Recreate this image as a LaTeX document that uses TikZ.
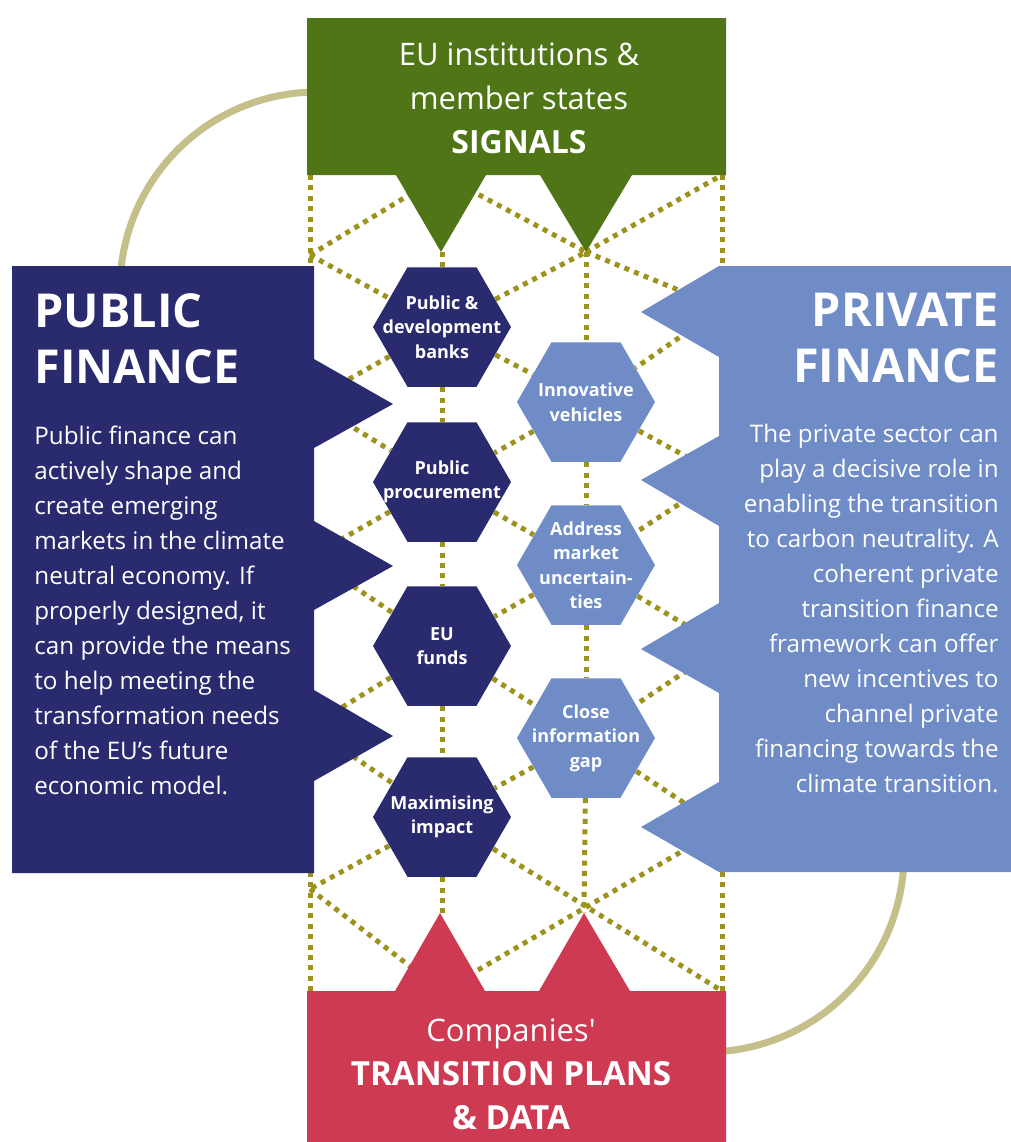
\documentclass[tikz,border=0pt]{standalone}
\usepackage{fontspec}
\setmainfont{Open Sans}
\usetikzlibrary{shapes.geometric}
\definecolor{signalgreen}{RGB}{79,117,23}
\definecolor{publicblue}{RGB}{42,42,110}
\definecolor{privateblue}{RGB}{111,140,198}
\definecolor{planred}{RGB}{206,58,82}
\definecolor{latticeolive}{RGB}{158,146,30}
\definecolor{looptan}{RGB}{197,191,138}
\pgfdeclarelayer{lattice}
\pgfsetlayers{lattice,main}
\tikzstyle{lattice line}=[line width=2.5pt, latticeolive, dash pattern=on 2.5pt off 2.7pt]
\tikzstyle{loop arc}=[line width=3.5pt, looptan]
\tikzstyle{hexagon}=[regular polygon, regular polygon sides=6, minimum size=69pt, inner sep=0pt]
\tikzstyle{public hex}=[hexagon, fill=publicblue]
\tikzstyle{private hex}=[hexagon, fill=privateblue]
\tikzstyle{hex text}=[text=white, inner sep=0pt, align=center, font=\fontsize{9}{12.25}\selectfont\bfseries]
\tikzstyle{title}=[text=white, inner sep=0pt, font=\fontsize{23.4}{28}\selectfont\bfseries]
\tikzstyle{body}=[text=white, inner sep=0pt, font=\fontsize{12.1}{17.5}\selectfont]
\tikzstyle{box text}=[text=white, inner sep=0pt, align=center, font=\fontsize{15.5}{22}\selectfont]

\begin{document}
\begin{tikzpicture}[x=0.5pt, y=-0.5pt]
\useasboundingbox (0,0) rectangle (1011,1142);
% Loop
\begin{pgfonlayer}{lattice}
    \draw[loop arc] (317,289) ++(183:197) arc[start angle=183, end angle=277, radius=197];
    \draw[loop arc] (706,854) ++(-2:198) arc[start angle=-2, end angle=95, radius=198];
\end{pgfonlayer}
% Signals
    \fill[signalgreen] (307,18) -- (726,18) -- (726,175) -- (632,175) -- (586,252) -- (540,175)
        -- (486,175) -- (441,252) -- (396,175) -- (307,175) -- cycle;
    \node[box text, anchor=north] (signals) at (519,42) {EU institutions \&\\member states\\{\fontsize{16}{22}\selectfont\bfseries SIGNALS}};
% Transition plans
    \fill[planred] (307,1142) -- (307,991) -- (395,991) -- (440,913) -- (485,991) -- (539,991)
        -- (584,913) -- (630,991) -- (726,991) -- (726,1142) -- cycle;
    \node[box text, anchor=north] (plans) at (511,1018) {Companies\textquotesingle\\{\fontsize{16.6}{22.5}\selectfont\bfseries TRANSITION PLANS}\\{\fontsize{16.6}{22.5}\selectfont\bfseries \& DATA}};
% Public finance
    \fill[publicblue] (12,266) -- (314,266) -- (314,359) -- (393,404) -- (314,448) -- (314,521)
        -- (393,566) -- (314,610) -- (314,690) -- (393,736) -- (314,781) -- (314,873) -- (12,873) -- cycle;
    \node[title, anchor=north west, align=left] (pubtitle) at (34,293) {PUBLIC\\FINANCE};
    \node[body, anchor=north west, align=left] (pubtext) at (34,426) {Public finance can\\actively shape and\\create emerging\\markets in the climate\\neutral economy. If\\properly designed, it\\can provide the means\\to help meeting the\\transformation needs\\of the EU’s future\\economic model.};
% Private finance
    \fill[privateblue] (1011,266) -- (719,266) -- (641,312) -- (719,357) -- (719,436) -- (641,480)
        -- (719,526) -- (719,603) -- (641,649) -- (719,693) -- (719,782) -- (641,827) -- (719,872)
        -- (1011,872) -- cycle;
    \node[title, anchor=north east, align=right] (privtitle) at (999,293) {PRIVATE\\FINANCE};
    \node[body, anchor=north east, align=right] (privtext) at (999,424) {The private sector can\\play a decisive role in\\enabling the transition\\to carbon neutrality. A\\coherent private\\transition finance\\framework can offer\\new incentives to\\channel private\\financing towards the\\climate transition.};
% Hexagons
    \node[public hex, label={[hex text]center:Public \&\\development\\banks}] (h1) at (442,327) {};
    \node[public hex, label={[hex text]center:Public\\procurement}] (h2) at (442,482) {};
    \node[public hex, label={[hex text]center:EU\\funds}] (h3) at (442,646) {};
    \node[public hex, label={[hex text]center:Maximising\\impact}] (h4) at (442,817) {};
    \node[private hex, label={[hex text]center:Innovative\\vehicles}] (v1) at (586,402) {};
    \node[private hex, label={[hex text]center:Address\\market\\uncertain-\\ties}] (v2) at (586,565) {};
    \node[private hex, label={[hex text]center:Close\\information\\gap}] (v3) at (586,738) {};
% Lattice points
    \coordinate (gl) at (310,175);
    \coordinate (g1) at (442,175);
    \coordinate (gr) at (722,175);
    \coordinate (a1) at (442,252);
    \coordinate (a2) at (586,252);
    \coordinate (l0) at (310,255);
    \coordinate (l1) at (310,401);
    \coordinate (l2) at (310,557);
    \coordinate (l3) at (310,727);
    \coordinate (l4) at (310,889);
    \coordinate (r0) at (722,308);
    \coordinate (r1) at (722,476);
    \coordinate (r2) at (722,647);
    \coordinate (r3) at (722,828);
    \coordinate (c1) at (442,913);
    \coordinate (c2) at (584,913);
    \coordinate (bl) at (310,991);
    \coordinate (b1) at (442,991);
    \coordinate (br) at (722,991);
% Lattice lines
\begin{pgfonlayer}{lattice}
    \draw[lattice line] (gl) -- (bl);
    \draw[lattice line] (gr) -- (br);
    \draw[lattice line] (a1) -- (h1);
    \draw[lattice line] (h1) -- (h2);
    \draw[lattice line] (h2) -- (h3);
    \draw[lattice line] (h3) -- (h4);
    \draw[lattice line] (h4) -- (c1);
    \draw[lattice line] (a2) -- (v1);
    \draw[lattice line] (v1) -- (v2);
    \draw[lattice line] (v2) -- (v3);
    \draw[lattice line] (v3) -- (c2);
    \draw[lattice line] (l0) -- (g1);
    \draw[lattice line] (g1) -- (a2);
    \draw[lattice line] (a2) -- (gr);
    \draw[lattice line] (a2) -- (r0);
    \draw[lattice line] (r0) -- (v1);
    \draw[lattice line] (l0) -- (h1);
    \draw[lattice line] (h1) -- (a2);
    \draw[lattice line] (h1) -- (v1);
    \draw[lattice line] (h1) -- (l1);
    \draw[lattice line] (l1) -- (h2);
    \draw[lattice line] (v1) -- (h2);
    \draw[lattice line] (v1) -- (r1);
    \draw[lattice line] (r1) -- (v2);
    \draw[lattice line] (h2) -- (v2);
    \draw[lattice line] (h2) -- (l2);
    \draw[lattice line] (l2) -- (h3);
    \draw[lattice line] (v2) -- (h3);
    \draw[lattice line] (v2) -- (r2);
    \draw[lattice line] (r2) -- (v3);
    \draw[lattice line] (h3) -- (v3);
    \draw[lattice line] (h3) -- (l3);
    \draw[lattice line] (l3) -- (h4);
    \draw[lattice line] (v3) -- (h4);
    \draw[lattice line] (v3) -- (r3);
    \draw[lattice line] (h4) -- (l4);
    \draw[lattice line] (l4) -- (b1);
    \draw[lattice line] (b1) -- (r3);
    \draw[lattice line] (h4) -- (br);
\end{pgfonlayer}
\end{tikzpicture}
\end{document}
